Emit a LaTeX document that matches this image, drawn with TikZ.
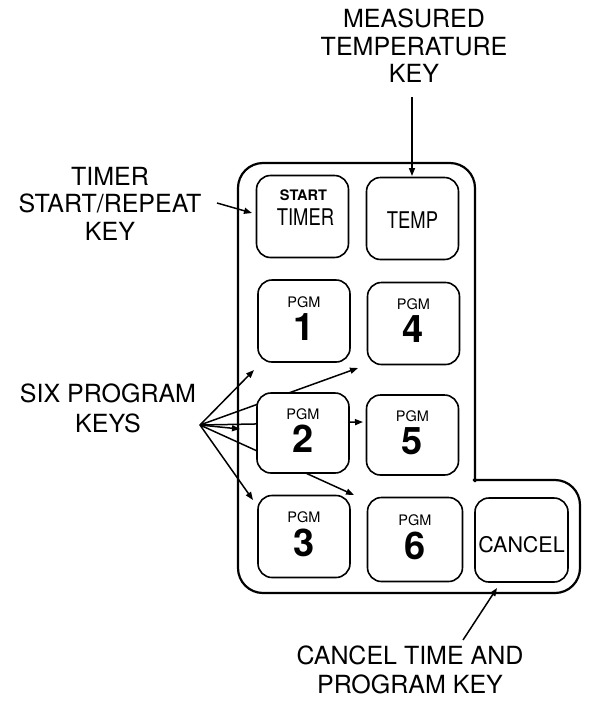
\documentclass[tikz,border=0pt]{standalone}
\usepackage{fontspec}
\setmainfont{TeX Gyre Heros}
\usepackage{graphicx}
\usetikzlibrary{arrows.meta,calc}
\begin{document}
\begin{tikzpicture}[x=1pt,y=-1pt,
  outerline/.style={line width=2.2pt,line cap=rect,line join=round},
  keybox/.style={draw,line width=1.6pt,rounded corners=14pt,fill=white,minimum width=92pt,minimum height=82pt,inner sep=0pt},
  lbl/.style={font=\fontsize{25}{27.5}\selectfont,align=center,inner sep=0pt},
  small/.style={font=\fontsize{14.5}{15}\selectfont,inner sep=0pt},
  smallb/.style={font=\fontsize{14.5}{15}\selectfont\bfseries,inner sep=0pt},
  digit/.style={font=\fontsize{38}{40}\selectfont\bfseries,inner sep=0pt},
  keytxt/.style={font=\fontsize{23}{24}\selectfont,inner sep=0pt},
  ptr/.style={line width=1.5pt,-{Triangle[length=8pt,width=6pt]}}]
\useasboundingbox (0,0) rectangle (592,702);

% outer panel outline
\draw[outerline,rounded corners=25pt] (474,480) -- (580,480) -- (580,593) -- (238,593) -- (238,163) -- (475,163) -- (475,481);

% labels
\node[lbl] (lmeas) at (414,46) {MEASURED\\TEMPERATURE\\KEY};
\node[lbl] (ltimer) at (110,203.5) {TIMER\\START/REPEAT\\KEY};
\node[lbl,font=\fontsize{25}{30}\selectfont] (lsix) at (108,408) {SIX PROGRAM\\KEYS};
\node[lbl,font=\fontsize{25}{29}\selectfont] (lcancel) at (410,670) {CANCEL TIME AND\\PROGRAM KEY};

% pointer coordinates
\coordinate (tA) at (217,203);
\coordinate (tB) at (252,213);
\coordinate (mA) at (412,97);
\coordinate (mB) at (412,176);
\coordinate (cA) at (463,640);
\coordinate (cB) at (497,588);
\coordinate (spk) at (200,425);
\coordinate (p1) at (254,370);
\coordinate (p4) at (358,368);
\coordinate (p5) at (363,422);
\coordinate (p2) at (240,429);
\coordinate (p6) at (354,495);
\coordinate (p3) at (253,500);

\draw[ptr] (tA) -- (tB);
\draw[ptr] (mA) -- (mB);
\draw[ptr] (cA) -- (cB);
\draw[ptr] (spk) -- (p1);
\draw[ptr] (spk) -- (p4);
\draw[ptr] (spk) -- (p5);
\draw[ptr] (spk) -- (p2);
\draw[ptr] (spk) -- (p6);
\draw[ptr] (spk) -- (p3);

% keys
\node[keybox] (ktimer) at (302.5,216.5) {};
\node[keybox] (ktemp) at (412.5,218.5) {};
\node[keybox] (k1) at (304,321) {};
\node[keybox] (k4) at (413.5,323.5) {};
\node[keybox,minimum height=80pt] (k2) at (303,433) {};
\node[keybox,minimum height=80pt] (k5) at (412.5,435) {};
\node[keybox] (k3) at (304,536.5) {};
\node[keybox,minimum width=95pt,minimum height=84pt] (k6) at (415,539.5) {};
\node[keybox,minimum width=93pt,minimum height=84pt] (kc) at (521.5,540) {};

% key texts
\node[smallb] at ($(ktimer.center)+(1,-21.5)$) {START};
\node[keytxt] at ($(ktimer.center)+(3,0.5)$) {\scalebox{0.8}[1]{TIMER}};
\node[keytxt] at ($(ktemp.center)+(0,2)$) {\scalebox{0.8}[1]{TEMP}};
\foreach \k/\d in {k1/1,k4/4,k2/2,k5/5,k3/3,k6/6}{
  \node[small] at ($(\k.center)+(0,-19)$) {PGM};
  \node[digit] at ($(\k.center)+(0,6)$) {\d};
}
\node[keytxt,font=\fontsize{21.5}{22}\selectfont] at ($(kc.center)+(0,5)$) {CANCEL};
\end{tikzpicture}
\end{document}
